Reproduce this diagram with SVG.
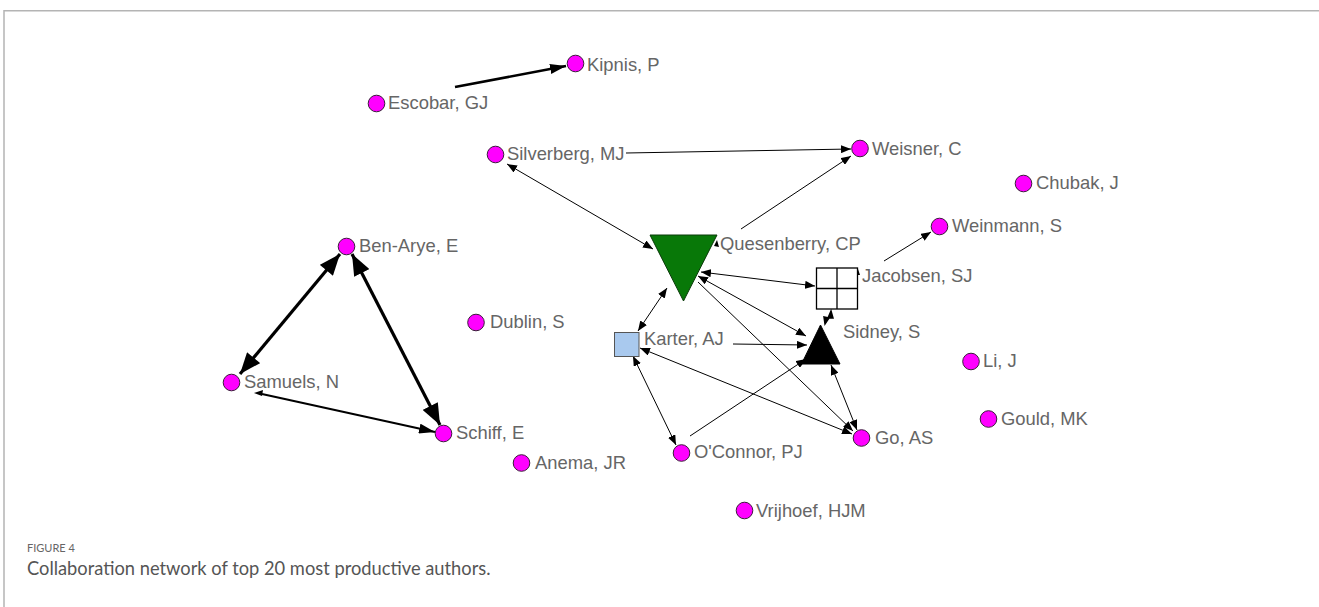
<svg xmlns="http://www.w3.org/2000/svg" width="1319" height="607" viewBox="0 0 1319 607">
<style>
.lbl{font-family:"Liberation Sans",Arial,sans-serif;font-size:18.4px;fill:#666}
.dot{fill:#ff00ff;stroke:#3a1a3a;stroke-width:1}
.e{fill:none;stroke:#000;stroke-width:1}
.e2{fill:none;stroke:#000;stroke-width:2}
.e25{fill:none;stroke:#000;stroke-width:2.6}
.e3{fill:none;stroke:#000;stroke-width:3.2}
.cap1{font-family:Lato,"Open Sans",sans-serif;font-size:11px;fill:#666}
.cap2{font-family:Lato,"Open Sans",sans-serif;font-size:18.3px;fill:#555}
</style>
<defs>
<marker id="a" viewBox="0 0 10 8" refX="10" refY="4" markerWidth="10" markerHeight="8" markerUnits="userSpaceOnUse" orient="auto-start-reverse"><path d="M0,0 L10,4 L0,8 Z" fill="#000"/></marker>
<marker id="b" viewBox="0 0 20 16" refX="20" refY="8" markerWidth="22" markerHeight="17" markerUnits="userSpaceOnUse" orient="auto-start-reverse"><path d="M0,0 L20,8 L0,16 Z" fill="#000"/></marker>
<marker id="m" viewBox="0 0 16 10" refX="16" refY="5" markerWidth="16" markerHeight="10" markerUnits="userSpaceOnUse" orient="auto-start-reverse"><path d="M0,0 L16,5 L0,10 Z" fill="#000"/></marker>
</defs>
<rect width="1319" height="607" fill="#fff"/>
<g id="frame" fill="none" stroke="#b4b4b4" stroke-width="1.5">
<path d="M4,607 V10.75 H1319"/>
</g>
<g id="connectors">
<path class="e25" d="M455,87 L566,66" marker-end="url(#m)"/>
<path class="e" d="M626,153 L851,149" marker-end="url(#a)"/>
<path class="e" d="M653,249 L507,164" marker-start="url(#a)" marker-end="url(#a)"/>
<path class="e" d="M741,229 L851,156" marker-end="url(#a)"/>
<path class="e" d="M884,261 L931,232" marker-end="url(#a)"/>
<path class="e" d="M701,272 L815,286" marker-start="url(#a)" marker-end="url(#a)"/>
<path class="e" d="M698,276 L806,336" marker-start="url(#a)" marker-end="url(#a)"/>
<path class="e" d="M698,282 L853,431" marker-end="url(#a)"/>
<path class="e" d="M638,331 L667,288" marker-start="url(#a)" marker-end="url(#a)"/>
<path class="e" d="M733,344 L807,345" marker-end="url(#a)"/>
<path class="e" d="M640,348 L852,434" marker-start="url(#a)" marker-end="url(#a)"/>
<path class="e" d="M633,356 L676,445" marker-start="url(#a)" marker-end="url(#a)"/>
<path class="e" d="M690,436 L806,359" marker-end="url(#a)"/>
<path class="e" d="M831,365 L857,430" marker-start="url(#a)" marker-end="url(#a)"/>
<path d="M831,311 L828,318 L833,318 Z M825,324 L824,317 L829,318 Z" fill="#000" stroke="#000" stroke-width="1.5"/>
<path class="e3" d="M240,374 L340,254" marker-start="url(#b)" marker-end="url(#b)"/>
<path class="e3" d="M352,254 L440,425" marker-start="url(#b)" marker-end="url(#b)"/>
<path class="e2" d="M262,394 L435,432" marker-end="url(#m)"/>
<path d="M254,393 L263,390 L262,396 Z" fill="#000"/>
<path d="M717,240 L719,247 L714,246 Z" fill="#000"/>
<path d="M858,269 L860,275 L856,275 Z" fill="#000"/>
</g>
<g id="n-kipnis"><circle class="dot" cx="575.5" cy="63.5" r="8.3"/><text class="lbl" x="587" y="71">Kipnis, P</text></g>
<g id="n-escobar"><circle class="dot" cx="376.5" cy="103.5" r="8.3"/><text class="lbl" x="388" y="109">Escobar, GJ</text></g>
<g id="n-silverberg"><circle class="dot" cx="495.5" cy="154.5" r="8.3"/><text class="lbl" x="507" y="160">Silverberg, MJ</text></g>
<g id="n-weisner"><circle class="dot" cx="860" cy="148.5" r="8.3"/><text class="lbl" x="872" y="155">Weisner, C</text></g>
<g id="n-chubak"><circle class="dot" cx="1023.5" cy="183.5" r="8.3"/><text class="lbl" x="1036" y="189">Chubak, J</text></g>
<g id="n-weinmann"><circle class="dot" cx="939.5" cy="226.5" r="8.3"/><text class="lbl" x="952" y="232">Weinmann, S</text></g>
<g id="n-benarye"><circle class="dot" cx="346.5" cy="246.5" r="8.3"/><text class="lbl" x="359" y="252">Ben-Arye, E</text></g>
<g id="n-quesenberry"><polygon points="650,235 717,235 683.5,301" fill="#087808" stroke="#0a3a0a" stroke-width="1"/><text class="lbl" x="720" y="250">Quesenberry, CP</text></g>
<g id="n-jacobsen"><rect x="816.5" y="268" width="41" height="41" fill="#fff" stroke="#000" stroke-width="1.3"/><path d="M837,268 V309 M816.5,288.5 H857.5" stroke="#000" stroke-width="1.3"/><text class="lbl" x="862" y="282">Jacobsen, SJ</text></g>
<g id="n-dublin"><circle class="dot" cx="476" cy="322.5" r="8.3"/><text class="lbl" x="490" y="328">Dublin, S</text></g>
<g id="n-karter"><rect x="614.5" y="332.5" width="24.5" height="24" fill="#a9c9ee" stroke="#555" stroke-width="1"/><text class="lbl" x="644" y="345">Karter, AJ</text></g>
<g id="n-sidney"><polygon points="820.5,325 801.5,364 840,364" fill="#000" stroke="#000" stroke-width="1"/><text class="lbl" x="843" y="338">Sidney, S</text></g>
<g id="n-li"><circle class="dot" cx="971" cy="361.5" r="8.3"/><text class="lbl" x="983" y="367">Li, J</text></g>
<g id="n-samuels"><circle class="dot" cx="231.5" cy="382.5" r="8.3"/><text class="lbl" x="244" y="388">Samuels, N</text></g>
<g id="n-gould"><circle class="dot" cx="988.5" cy="419" r="8.3"/><text class="lbl" x="1001" y="425">Gould, MK</text></g>
<g id="n-schiff"><circle class="dot" cx="443.5" cy="433.5" r="8.3"/><text class="lbl" x="456" y="439">Schiff, E</text></g>
<g id="n-go"><circle class="dot" cx="861.5" cy="438" r="8.3"/><text class="lbl" x="875" y="443.5">Go, AS</text></g>
<g id="n-oconnor"><circle class="dot" cx="681.5" cy="453" r="8.3"/><text class="lbl" x="694" y="458">O'Connor, PJ</text></g>
<g id="n-anema"><circle class="dot" cx="521.5" cy="463" r="8.3"/><text class="lbl" x="535" y="469">Anema, JR</text></g>
<g id="n-vrijhoef"><circle class="dot" cx="744.5" cy="510.5" r="8.3"/><text class="lbl" x="756" y="516.5">Vrijhoef, HJM</text></g>
<g id="caption">
<text class="cap1" x="27" y="552">FIGURE 4</text>
<text class="cap2" x="27" y="575">Collaboration network of top 20 most productive authors.</text>
</g>
</svg>
